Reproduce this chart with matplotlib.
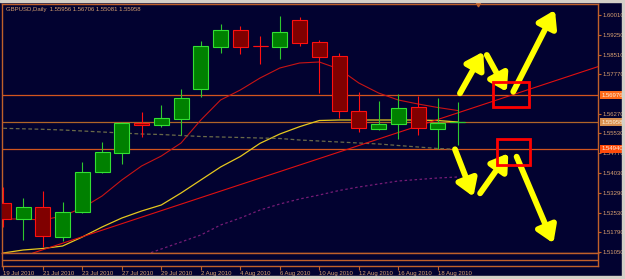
import matplotlib
matplotlib.use("Agg")
import matplotlib.pyplot as plt
from matplotlib.patches import Rectangle
import numpy as np

# ---------------- data ----------------
dates = ["19 Jul 2010", "20 Jul 2010", "21 Jul 2010", "22 Jul 2010", "23 Jul 2010",
         "26 Jul 2010", "27 Jul 2010", "28 Jul 2010", "29 Jul 2010", "30 Jul 2010",
         "2 Aug 2010", "3 Aug 2010", "4 Aug 2010", "5 Aug 2010", "6 Aug 2010",
         "9 Aug 2010", "10 Aug 2010", "11 Aug 2010", "12 Aug 2010", "13 Aug 2010",
         "16 Aug 2010", "17 Aug 2010", "18 Aug 2010", "19 Aug 2010"]
opens = [1.52882, 1.52288, 1.52730, 1.51617, 1.52541, 1.54078, 1.54797, 1.55933,
         1.55846, 1.56084, 1.57220, 1.58810, 1.59442, 1.58848, 1.58810, 1.59821,
         1.58977, 1.58458, 1.56387, 1.55706, 1.55872, 1.56516, 1.55706, 1.55956]
highs = [1.53510, 1.53071, 1.53348, 1.52942, 1.54457, 1.55191, 1.55971, 1.56349,
         1.56603, 1.57197, 1.59037, 1.59658, 1.59605, 1.59215, 1.59972, 1.59923,
         1.59064, 1.58560, 1.57107, 1.56766, 1.57008, 1.56944, 1.56857, 1.56706]
lows = [1.51996, 1.51493, 1.51239, 1.51466, 1.52515, 1.54040, 1.54370, 1.55403,
        1.55759, 1.55467, 1.56917, 1.58560, 1.58522, 1.58144, 1.58344, 1.58848,
        1.57046, 1.56100, 1.55592, 1.55657, 1.55305, 1.55467, 1.54926, 1.55081]
closes = [1.52276, 1.52753, 1.51655, 1.52541, 1.54055, 1.54812, 1.55910, 1.55835,
          1.56100, 1.56879, 1.58836, 1.59442, 1.58810, 1.58845, 1.59355, 1.58961,
          1.58431, 1.56365, 1.55721, 1.55872, 1.56501, 1.55721, 1.55910, 1.55958]

ma_fast = [1.52288, 1.52288, 1.52250, 1.52401, 1.52704, 1.53158, 1.53764, 1.54294,
           1.54672, 1.55165, 1.56035, 1.56792, 1.57171, 1.57625, 1.58004, 1.58193,
           1.58231, 1.57966, 1.57436, 1.57057, 1.56792, 1.56641, 1.56508, 1.56395]
ma_mid = [1.51001, 1.51114, 1.51171, 1.51265, 1.51606, 1.51985, 1.52325, 1.52590,
          1.52818, 1.53272, 1.53764, 1.54256, 1.54654, 1.55153, 1.55505, 1.55782,
          1.56016, 1.56035, 1.56035, 1.56035, 1.56035, 1.56035, 1.56016, 1.55960]
ma_slow = [1.55721, 1.55702, 1.55683, 1.55657, 1.55619, 1.55581, 1.55543, 1.55505,
           1.55486, 1.55448, 1.55411, 1.55392, 1.55373, 1.55354, 1.55335, 1.55278,
           1.55240, 1.55202, 1.55165, 1.55127, 1.55070, 1.55013, 1.54956, 1.54926]
ma_long_start = 7
ma_long = [1.50887, 1.51152, 1.51417, 1.51682, 1.52060, 1.52325, 1.52628, 1.52855,
           1.53045, 1.53196, 1.53366, 1.53499, 1.53613, 1.53726, 1.53783, 1.53840,
           1.53877]

# trend line (bar index, price) and horizontal levels
trend_x = [1.5, 30.1]
trend_y = [1.51000, 1.58053]
levels = [1.56976, 1.55958, 1.54940]

price_ticks = [1.60010, 1.59250, 1.58510, 1.57770, 1.56270, 1.55530,
               1.54770, 1.54030, 1.53290, 1.52530, 1.51790, 1.51050]

# hand drawn scenario arrows: (x0, y0, x1, y1) in bar index / price
arrows = [(23.12, 1.57046, 24.30, 1.58621),
          (24.48, 1.58496, 25.49, 1.57106),
          (25.82, 1.57106, 27.93, 1.60199),
          (22.87, 1.54926, 23.80, 1.53132),
          (24.14, 1.53260, 25.57, 1.54775),
          (25.99, 1.54646, 27.85, 1.51368)]
# red boxes: (x0, x1, y_low, y_high)
boxes = [(24.78, 26.63, 1.56516, 1.57462),
         (24.99, 26.67, 1.54332, 1.55297)]

# ---------------- style ----------------
BG = "#020230"
FRAME = "#C0602A"
TXT = "#D8A070"
FS = 4.3
plt.rcParams["font.family"] = ["Liberation Sans", "DejaVu Sans"]

W, H = 625, 279
fig = plt.figure(figsize=(W / 100, H / 100), dpi=100, facecolor=BG)

def frac(x0, y0, x1, y1):
    # pixel box (top-left origin) -> figure fraction rect
    return [x0 / W, 1 - y1 / H, (x1 - x0) / W, (y1 - y0) / H]

ax = fig.add_axes(frac(2.3, 4.3, 598, 253.3))
sub = fig.add_axes(frac(2.3, 253.3, 598, 266), sharex=ax)
for a in (ax, sub):
    a.set_facecolor(BG)
    for s in a.spines.values():
        s.set_color(FRAME)
        s.set_linewidth(1.0)

x = np.arange(len(dates))
ax.set_xlim(-0.051, 30.11)
ax.set_ylim(1.50989, 1.60415)

# moving averages / trend line
ax.plot(x, ma_fast, color="#C81414", lw=0.8, zorder=2)
ax.plot(x, ma_mid, color="#E6C81E", lw=0.9, zorder=2)
ax.plot(x, ma_slow, color="#6A6A48", lw=0.9, ls=(0, (3, 2)), zorder=2)
ax.plot(x[ma_long_start:], ma_long, color="#761C76", lw=0.9, ls=(0, (2, 2)), zorder=2)
ax.plot(trend_x, trend_y, color="#E01010", lw=0.8, zorder=2)

for lv, c in zip(levels, ["#D2551E", "#B06428", "#D2551E"]):
    ax.axhline(lv, color=c, lw=0.9, zorder=1.5)

# candles
o = np.array(opens)
c = np.array(closes)
bull = c >= o
body_w = 0.76
wick_col = np.where(bull, "#2EC82E", "#FF1010")
ax.vlines(x, lows, highs, colors=wick_col, lw=0.8, zorder=3)
ax.bar(x, np.abs(c - o), bottom=np.minimum(o, c), width=body_w,
       color=np.where(bull, "#008000", "#800000"),
       edgecolor=np.where(bull, "#33E033", "#FF1010"), linewidth=0.8, zorder=4)
flat = np.abs(c - o) < 0.0002
ax.hlines(o[flat], x[flat] - body_w / 2, x[flat] + body_w / 2,
          colors=wick_col[flat], lw=0.8, zorder=4)

# scenario arrows and boxes
for x0, y0, x1, y1 in arrows:
    ax.annotate("", xy=(x1, y1), xytext=(x0, y0), zorder=6,
                arrowprops=dict(arrowstyle="-|>,head_length=0.7,head_width=0.45",
                                color="#FFFF00", lw=4.2, mutation_scale=14,
                                capstyle="round", shrinkA=0, shrinkB=0))
for bx0, bx1, by0, by1 in boxes:
    ax.add_patch(Rectangle((bx0, by0), bx1 - bx0, by1 - by0, fill=False,
                           edgecolor="#FF0000", lw=2.0, zorder=7))

# price axis on the right
ax.yaxis.tick_right()
ax.set_yticks(price_ticks)
ax.set_yticklabels([f"{p:.5f}" for p in price_ticks])
ax.tick_params(axis="y", colors=FRAME, labelcolor=TXT, labelsize=FS,
               length=2, width=0.8, pad=1)
ax.tick_params(axis="x", bottom=False, labelbottom=False)

hl_style = [("#FF6A1A", "#FFF0DC"), ("#D89050", "#FFF0DC"), ("#FF4A0A", "#FFF0DC")]
for lv, (bg, fg) in zip(levels, hl_style):
    ax.annotate(f"{lv:.5f}", xy=(1, lv), xycoords=("axes fraction", "data"),
                xytext=(2.2, 0), textcoords="offset points", va="center", ha="left",
                fontsize=FS, color=fg, zorder=10, annotation_clip=False,
                bbox=dict(boxstyle="square,pad=0.25", fc=bg, ec="none"))

# title
fig.text(6 / W, 1 - 9.6 / H, "GBPUSD,Daily  1.55956 1.56706 1.55081 1.55958",
         color=TXT, fontsize=FS, va="center", ha="left")
# chart shift marker
ax.plot([0.7986], [1.0], marker="v", ms=3.5, color="#C0602A",
        transform=ax.transAxes, clip_on=False, zorder=10)

# empty indicator strip + date axis
sub.axhline(0.5, color=FRAME, lw=1.0)
sub.set_yticks([])
sub.set_ylim(0, 1)
xt = x[::2][:12]
sub.set_xticks(xt)
sub.set_xticklabels([dates[i] for i in xt], ha="left")
sub.tick_params(axis="x", colors=FRAME, labelcolor=TXT, labelsize=FS,
                length=3, width=0.8, pad=0.5)
for lab in sub.get_xticklabels():
    lab.set_x(lab.get_position()[0])

# window border
fig.patches.append(Rectangle((0, 1 - 2 / H), 1, 2 / H, transform=fig.transFigure,
                             color="#D4D0C8", zorder=20))
fig.patches.append(Rectangle((1 - 3 / W, 0), 3 / W, 1, transform=fig.transFigure,
                             color="#D4D0C8", zorder=20))
fig.patches.append(Rectangle((0, 0), 1, 3 / H, transform=fig.transFigure,
                             color="#D4D0C8", zorder=20))

fig.savefig("out.png", dpi=100, facecolor=BG)
